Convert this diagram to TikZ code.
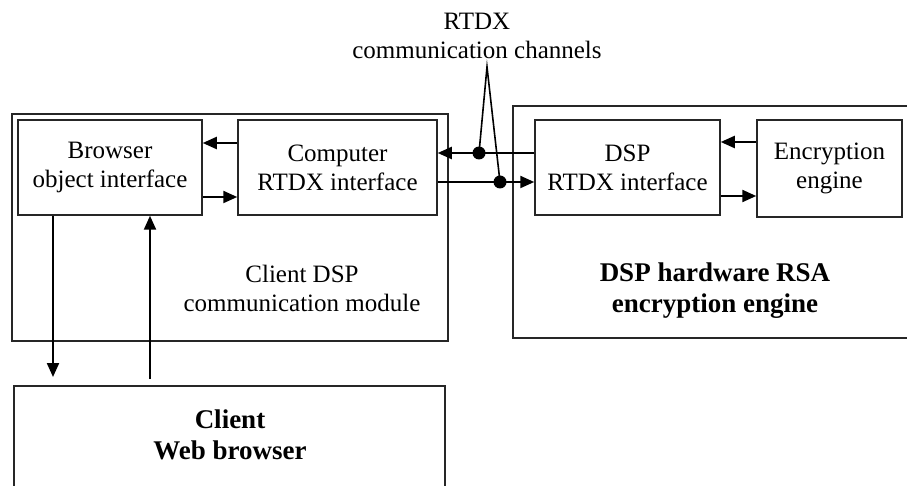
\documentclass[tikz,border=0pt]{standalone}
\usepackage{fontspec}
\setmainfont{Liberation Serif}
\usetikzlibrary{arrows.meta}
\tikzset{
  blockbox/.style={draw=black!85, line width=1.5pt, inner sep=0pt},
  frame/.style={draw=black!85, line width=1.5pt},
  reg/.style={font=\fontsize{25}{29}\selectfont, align=center, inner sep=0pt},
  bld/.style={font=\fontsize{27}{31}\selectfont\bfseries, align=center, inner sep=0pt},
  arr/.style={line width=2.2pt, -{Triangle[length=14pt,width=12pt]}},
  wire/.style={line width=2.2pt},
  thin/.style={line width=1.6pt},
  dot/.style={circle, fill=black, inner sep=0pt, minimum size=13pt},
}
\begin{document}
\begin{tikzpicture}[x=1pt,y=-1pt]
\useasboundingbox (0,0) rectangle (907,486);
\clip (0,0) rectangle (907,486);

% outer module frames
\draw[frame] (12,114) rectangle (448,341);
\draw[frame] (960,106) -- (513,106) -- (513,338) -- (960,338);
\draw[frame] (14,520) -- (14,386) -- (445,386) -- (445,520);

% inner blocks
\node[blockbox, minimum width=184pt, minimum height=95pt, reg] (brow) at (110,167.5)
  {Browser\\object interface};
\node[blockbox, minimum width=199pt, minimum height=95pt, reg] (comp) at (337.5,167.5)
  {Computer\\RTDX interface};
\node[blockbox, minimum width=185pt, minimum height=95pt, reg] (dsp) at (627.5,167.5)
  {DSP\\RTDX interface};
\node[blockbox, minimum width=145pt, minimum height=97pt, reg] (enc) at (829.5,168.5)
  {Encryption\\engine};

% module captions
\node[reg] (modcap) at (302,288) {Client DSP\\communication module};
\node[bld] (rsacap) at (715,291) {DSP hardware RSA\\encryption engine};
\node[bld] (webcap) at (230,435) {Client\\Web browser};
\coordinate (web) at (230,386);
\node[reg] (chan) at (477,36) {RTDX\\communication channels};

% links inside the client module
\draw[arr] (comp.west |- 0,143) -- (brow.east |- 0,143);
\draw[arr] (brow.east |- 0,197) -- (comp.west |- 0,197);

% links inside the DSP engine
\draw[arr] (enc.west |- 0,142) -- (dsp.east |- 0,142);
\draw[arr] (dsp.east |- 0,196) -- (enc.west |- 0,196);

% browser to web browser
\draw[arr, shorten >=9pt] (brow.south -| 53,0) -- (web -| 53,0);
\draw[arr, shorten <=7pt] (web -| 150,0) -- (brow.south -| 150,0);

% RTDX channels
\draw[arr] (dsp.west |- 0,153) -- (comp.east |- 0,153);
\draw[arr] (comp.east |- 0,182) -- (dsp.west |- 0,182);
\node[dot] (d1) at (479,153) {};
\node[dot] (d2) at (500,182) {};
\coordinate (apex) at (487,67);
\draw[thin] (d1.center) -- (apex) -- (d2.center);
\end{tikzpicture}
\end{document}
